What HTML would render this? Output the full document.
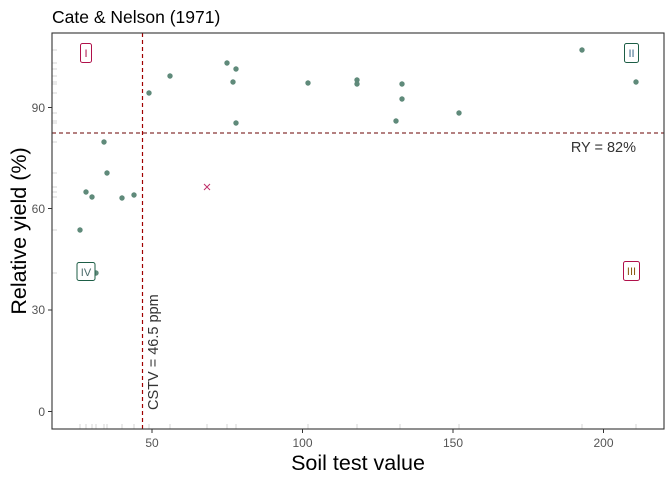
<!DOCTYPE html>
<html><head><meta charset="utf-8"><style>body{margin:0;background:#fff}</style></head><body>
<svg width="672" height="480" xmlns="http://www.w3.org/2000/svg" font-family="Liberation Sans, sans-serif">
<rect width="672" height="480" fill="#fff"/>
<text x="52" y="23" font-size="17.5" fill="#000">Cate &amp; Nelson (1971)</text>
<g stroke="#ccc" stroke-width="0.8">
<line x1="80" y1="429" x2="80" y2="424"/><line x1="86" y1="429" x2="86" y2="424"/><line x1="92" y1="429" x2="92" y2="424"/><line x1="96" y1="429" x2="96" y2="424"/><line x1="104" y1="429" x2="104" y2="424"/><line x1="107" y1="429" x2="107" y2="424"/><line x1="122" y1="429" x2="122" y2="424"/><line x1="134" y1="429" x2="134" y2="424"/><line x1="149" y1="429" x2="149" y2="424"/><line x1="170" y1="429" x2="170" y2="424"/><line x1="207" y1="429" x2="207" y2="424"/><line x1="227" y1="429" x2="227" y2="424"/><line x1="236" y1="429" x2="236" y2="424"/><line x1="308" y1="429" x2="308" y2="424"/><line x1="357" y1="429" x2="357" y2="424"/><line x1="400" y1="429" x2="400" y2="424"/><line x1="459" y1="429" x2="459" y2="424"/><line x1="582" y1="429" x2="582" y2="424"/><line x1="636" y1="429" x2="636" y2="424"/>
<line x1="52" y1="50" x2="57" y2="50"/><line x1="52" y1="63" x2="57" y2="63"/><line x1="52" y1="69" x2="57" y2="69"/><line x1="52" y1="76" x2="57" y2="76"/><line x1="52" y1="82" x2="57" y2="82"/><line x1="52" y1="84" x2="57" y2="84"/><line x1="52" y1="93" x2="57" y2="93"/><line x1="52" y1="113" x2="57" y2="113"/><line x1="52" y1="121" x2="57" y2="121"/><line x1="52" y1="123" x2="57" y2="123"/><line x1="52" y1="142" x2="57" y2="142"/><line x1="52" y1="173" x2="57" y2="173"/><line x1="52" y1="187" x2="57" y2="187"/><line x1="52" y1="192" x2="57" y2="192"/><line x1="52" y1="197" x2="57" y2="197"/><line x1="52" y1="230" x2="57" y2="230"/><line x1="52" y1="273" x2="57" y2="273"/>
</g>
<line x1="142.5" y1="33" x2="142.5" y2="429" stroke="#a00000" stroke-width="1.2" stroke-dasharray="4,3"/>
<line x1="52" y1="133" x2="664" y2="133" stroke="#6a0000" stroke-width="1.1" stroke-dasharray="4,3"/>
<g fill="#5f8a7a">
<circle cx="80" cy="230" r="2.7"/><circle cx="86" cy="192" r="2.7"/><circle cx="92" cy="197" r="2.7"/><circle cx="104" cy="142" r="2.7"/><circle cx="107" cy="173" r="2.7"/><circle cx="122" cy="198" r="2.7"/><circle cx="134" cy="195" r="2.7"/><circle cx="149" cy="93" r="2.7"/><circle cx="170" cy="76" r="2.7"/><circle cx="227" cy="63" r="2.7"/><circle cx="236" cy="69" r="2.7"/><circle cx="233" cy="82" r="2.7"/><circle cx="236" cy="123" r="2.7"/><circle cx="308" cy="83" r="2.7"/><circle cx="357" cy="80" r="2.7"/><circle cx="357" cy="84" r="2.7"/><circle cx="402" cy="84" r="2.7"/><circle cx="402" cy="99" r="2.7"/><circle cx="396" cy="121" r="2.7"/><circle cx="459" cy="113" r="2.7"/><circle cx="582" cy="50" r="2.7"/><circle cx="636" cy="82" r="2.7"/><circle cx="96" cy="273" r="2.7"/>
</g>
<path d="M204 184l6 6M210 184l-6 6" stroke="#c0306a" stroke-width="1"/>
<g font-size="11">
<rect x="80.5" y="43.5" width="11" height="19" rx="2" fill="#fff" stroke="#b0104a"/><text x="86" y="57" text-anchor="middle" fill="#b0104a">I</text>
<rect x="624.5" y="43.5" width="14" height="19" rx="2" fill="#fff" stroke="#1d5e46"/><text x="631.5" y="57" text-anchor="middle" fill="#3a6a8a">II</text>
<rect x="623.5" y="261.5" width="16" height="19" rx="2" fill="#fff" stroke="#b0104a"/><text x="631.5" y="275" text-anchor="middle" fill="#8a5a10">III</text>
<rect x="77" y="262.5" width="18" height="18" rx="2" fill="#fff" stroke="#1d5e46"/><text x="86" y="276" text-anchor="middle" fill="#4a6a6a">IV</text>
</g>
<text x="636" y="152" font-size="14.5" text-anchor="end" fill="#333">RY = 82%</text>
<text transform="translate(158,410) rotate(-90)" font-size="14.5" fill="#333">CSTV = 46.5 ppm</text>
<rect x="52" y="33" width="612" height="396" fill="none" stroke="#333" stroke-width="1.1"/>
<g stroke="#333" stroke-width="1"><line x1="48" y1="107.5" x2="52" y2="107.5"/><line x1="48" y1="208.5" x2="52" y2="208.5"/><line x1="48" y1="310" x2="52" y2="310"/><line x1="48" y1="411.5" x2="52" y2="411.5"/>
<line x1="152" y1="429" x2="152" y2="433"/><line x1="302.5" y1="429" x2="302.5" y2="433"/><line x1="453" y1="429" x2="453" y2="433"/><line x1="603.5" y1="429" x2="603.5" y2="433"/></g>
<g font-size="12" fill="#555" text-anchor="end"><text x="45" y="112">90</text><text x="45" y="213">60</text><text x="45" y="314">30</text><text x="45" y="416">0</text></g>
<g font-size="12" fill="#555" text-anchor="middle"><text x="152" y="447">50</text><text x="302.5" y="447">100</text><text x="453" y="447">150</text><text x="603.5" y="447">200</text></g>
<text x="358" y="470" font-size="21.5" text-anchor="middle" fill="#000">Soil test value</text>
<text transform="translate(26,231) rotate(-90)" font-size="21.5" text-anchor="middle" fill="#000">Relative yield (%)</text>
</svg>
</body></html>
